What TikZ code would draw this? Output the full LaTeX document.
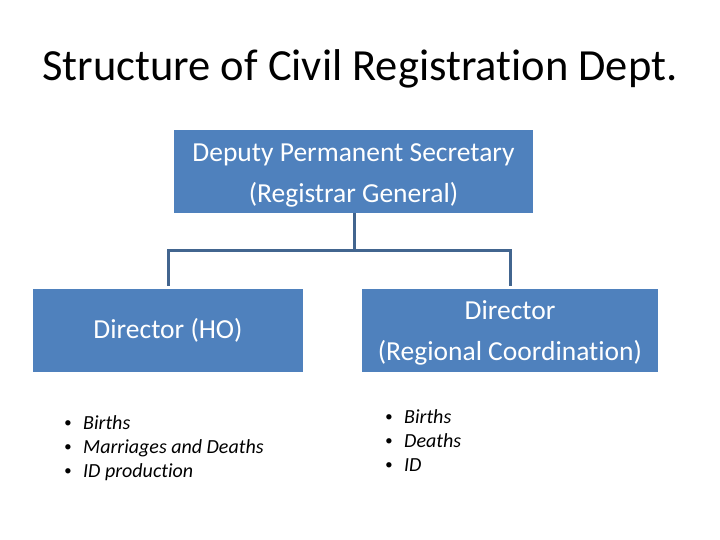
\documentclass[tikz,border=0pt]{standalone}
\usepackage{fontspec}
\setmainfont{Carlito}[Ligatures=NoCommon]
\definecolor{boxblue}{HTML}{4F81BD}
\definecolor{lineblue}{HTML}{42658F}
\newcommand{\bul}{\makebox[22pt][l]{\hspace{3pt}\raisebox{1.5pt}{\scalebox{0.75}{\textbullet}}}}
\begin{document}
\begin{tikzpicture}[x=1pt,y=-1pt,
  orgbox/.style={fill=boxblue,draw=none,inner sep=0pt,text=white,align=center,font=\fontsize{27.5}{41}\selectfont},
  conn/.style={draw=lineblue,line width=3pt},
  bullets/.style={anchor=north west,inner sep=0pt,align=left,font=\fontsize{20}{24}\selectfont\itshape}]
\useasboundingbox (0,0) rectangle (720,540);
\node (title) at (360,69) {\fontsize{44.5}{48}\selectfont Structure of Civil Registration Dept.};
\node[orgbox,minimum width=359pt,minimum height=83pt] (top) at (353.5,171.5) {\rule{0pt}{25pt}Deputy Permanent Secretary\\(Registrar General)};
\node[orgbox,minimum width=270pt,minimum height=83pt] (left) at (168,330.5) {Director (HO)};
\node[orgbox,minimum width=296pt,minimum height=83pt] (right) at (510,330.5) {\rule{0pt}{24pt}Director\\(Regional Coordination)};
\coordinate (mid) at (354,250);
\draw[conn] (top.south -| mid) -- (mid);
\draw[conn] (left.north) ++(0,-3) |- (mid) -| ([yshift=3pt]right.north);
\node[bullets] (lb) at (61,415) {\bul Births\\\bul Marriages and Deaths\\\bul ID production};
\node[bullets] (rb) at (382,409) {\bul Births\\\bul Deaths\\\bul ID};
\end{tikzpicture}
\end{document}
